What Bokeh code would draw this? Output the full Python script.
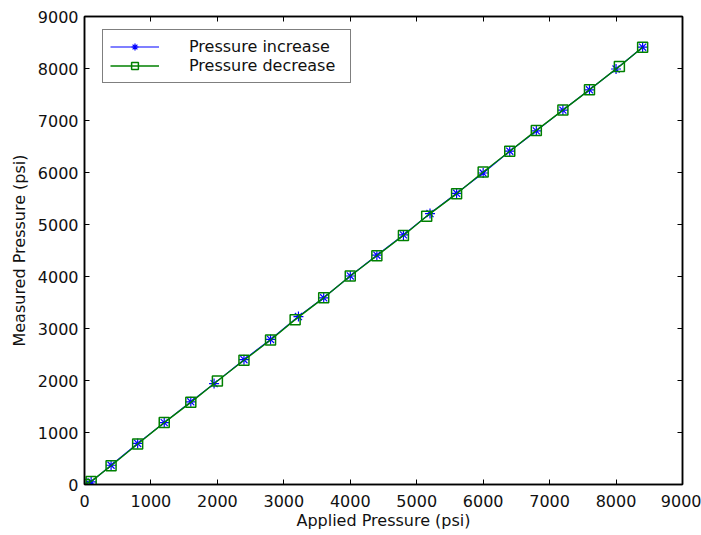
from bokeh.plotting import figure
from bokeh.models import LinearAxis, Range1d, Legend, LegendItem, FixedTicker
from bokeh.embed import file_html
from bokeh.resources import INLINE

# Data
inc_applied = [0, 100, 400, 800, 1200, 1600, 1950, 2400, 2800, 3220, 3600, 4000,
               4400, 4800, 5200, 5600, 6000, 6400, 6800, 7200, 7600, 8000, 8400]
inc_measured = [0, 50, 370, 790, 1190, 1590, 1940, 2400, 2790, 3230, 3590, 4010,
                4410, 4800, 5210, 5600, 5990, 6410, 6800, 7200, 7590, 7990, 8410]
dec_applied = [8400, 8050, 7600, 7200, 6800, 6400, 6000, 5600, 5150, 4800, 4400, 4000,
               3600, 3170, 2800, 2400, 2000, 1600, 1200, 800, 400, 100, 0]
dec_measured = [8410, 8040, 7590, 7200, 6810, 6410, 6010, 5590, 5160, 4790, 4400, 4010,
                3590, 3170, 2780, 2390, 1990, 1580, 1190, 780, 360, 60, 0]
tick_values = [0, 1000, 2000, 3000, 4000, 5000, 6000, 7000, 8000, 9000]
x_label = "Applied Pressure (psi)"
y_label = "Measured Pressure (psi)"
series_names = ["Pressure increase", "Pressure decrease"]

FONT = "DejaVu Sans"
FS = "16px"
BLUE = "#0000ff"
GREEN = "#008000"

p = figure(width=701, height=535, output_backend="svg", toolbar_location=None,
           x_range=Range1d(0, 9000), y_range=Range1d(0, 9000),
           x_axis_label=x_label, y_axis_label=y_label,
           min_border_left=84, min_border_right=19, min_border_top=16, min_border_bottom=51)
p.xgrid.visible = False
p.ygrid.visible = False
p.background_fill_color = "white"
p.border_fill_color = "white"
p.outline_line_color = "black"
p.outline_line_width = 1.5

ticker = FixedTicker(ticks=tick_values)

def style_axis(ax, labels=True):
    ax.ticker = ticker
    ax.axis_line_color = "black"
    ax.axis_line_width = 1.5
    ax.major_tick_in = 5
    ax.major_tick_out = 0
    ax.major_tick_line_color = "black"
    ax.major_tick_line_width = 1
    ax.minor_tick_line_color = None
    ax.major_label_text_font = FONT
    ax.major_label_text_font_size = FS
    ax.major_label_text_color = "#111111"
    ax.major_label_standoff = 6
    ax.axis_label_text_font = FONT
    ax.axis_label_text_font_size = FS
    ax.axis_label_text_font_style = "normal"
    ax.axis_label_text_color = "#111111"
    if not labels:
        ax.major_label_text_font_size = "0px"
        ax.major_label_text_color = None

for ax in p.xaxis:
    style_axis(ax)
    ax.major_label_standoff = 10
    ax.axis_label_standoff = 1
for ax in p.yaxis:
    style_axis(ax)
    ax.axis_label_standoff = 6

top_ax = LinearAxis()
style_axis(top_ax, labels=False)
right_ax = LinearAxis()
style_axis(right_ax, labels=False)
p.add_layout(top_ax, "above")
p.add_layout(right_ax, "right")

l1 = p.line(inc_applied, inc_measured, line_color=BLUE, line_width=1.2)
m1 = p.scatter(inc_applied, inc_measured, marker="asterisk", size=10,
               line_color=BLUE, line_width=1.2)
l2 = p.line(dec_applied, dec_measured, line_color=GREEN, line_width=1.4)
m2 = p.scatter(dec_applied, dec_measured, marker="square", size=10,
               line_color=GREEN, fill_color=None, line_width=1.5)

legend = Legend(items=[LegendItem(label=series_names[0], renderers=[l1, m1]),
                       LegendItem(label=series_names[1], renderers=[l2, m2])],
                location=(18, 401))
legend.label_text_font = FONT
legend.label_text_font_size = FS
legend.label_text_color = "#111111"
legend.label_text_line_height = 1.0
legend.glyph_width = 49
legend.glyph_height = 17
legend.label_height = 17
legend.label_width = 154
legend.label_standoff = 30
legend.spacing = 0
legend.padding = 7
legend.margin = 0
legend.border_line_color = "black"
legend.border_line_width = 1.5
legend.background_fill_color = "white"
legend.background_fill_alpha = 1
p.add_layout(legend, "center")

open("out.html", "w").write(file_html(p, INLINE))
